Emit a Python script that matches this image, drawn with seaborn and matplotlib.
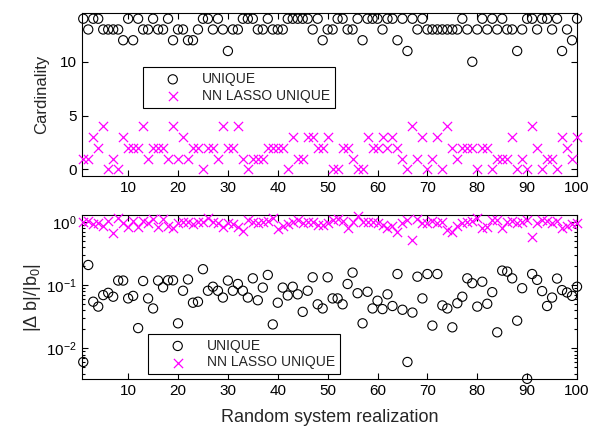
import numpy as np
import pandas as pd
import matplotlib
matplotlib.use('Agg')
import matplotlib.pyplot as plt
import seaborn as sns

# realization index
realization = list(range(1, 101))

# top panel: cardinality of the solution
card_unique = [14, 13, 14, 14, 13, 13, 13, 13, 12, 14,
               12, 14, 13, 13, 14, 13, 13, 14, 12, 13,
               13, 12, 12, 13, 14, 14, 13, 14, 13, 11,
               13, 13, 14, 14, 14, 13, 13, 14, 13, 13,
               13, 14, 14, 14, 14, 14, 13, 14, 12, 13,
               13, 14, 14, 13, 13, 14, 12, 14, 14, 14,
               13, 14, 14, 12, 14, 11, 14, 13, 14, 13,
               13, 13, 13, 13, 13, 13, 14, 13, 10, 13,
               14, 13, 14, 13, 14, 13, 13, 11, 13, 14,
               14, 13, 14, 14, 13, 14, 11, 13, 12, 14]
card_nnlasso = [1, 1, 3, 2, 4, 0, 1, 0, 3, 2,
                2, 2, 4, 1, 2, 2, 2, 1, 4, 1,
                3, 1, 2, 2, 0, 2, 2, 1, 4, 2,
                2, 4, 1, 0, 1, 1, 1, 2, 2, 2,
                2, 0, 3, 1, 1, 3, 3, 2, 2, 3,
                0, 0, 2, 2, 1, 0, 0, 3, 2, 2,
                3, 2, 3, 2, 1, 0, 4, 1, 3, 0,
                1, 3, 0, 4, 2, 1, 2, 2, 2, 0,
                2, 2, 0, 1, 1, 1, 3, 0, 1, 0,
                4, 2, 0, 1, 1, 0, 3, 2, 1, 3]

# bottom panel: relative error |db|/|b0|
err_unique = [0.0061, 0.21, 0.055, 0.046, 0.070, 0.076, 0.066, 0.119, 0.119, 0.062,
              0.068, 0.021, 0.117, 0.062, 0.043, 0.119, 0.093, 0.12, 0.12, 0.025,
              0.082, 0.124, 0.053, 0.055, 0.18, 0.082, 0.095, 0.082, 0.064, 0.119,
              0.082, 0.105, 0.082, 0.064, 0.129, 0.058, 0.092, 0.146, 0.024, 0.053,
              0.092, 0.069, 0.095, 0.072, 0.038, 0.082, 0.134, 0.050, 0.043, 0.134,
              0.062, 0.062, 0.050, 0.105, 0.159, 0.075, 0.025, 0.079, 0.043, 0.057,
              0.042, 0.072, 0.047, 0.151, 0.041, 0.0061, 0.037, 0.137, 0.062, 0.151,
              0.023, 0.151, 0.048, 0.043, 0.0216, 0.052, 0.066, 0.129, 0.108, 0.046,
              0.114, 0.051, 0.078, 0.018, 0.171, 0.165, 0.129, 0.0275, 0.090, 0.0033,
              0.151, 0.122, 0.081, 0.047, 0.064, 0.128, 0.084, 0.077, 0.068, 0.095]
err_nnlasso = [1.0, 1.06, 0.93, 0.96, 0.87, 1.06, 0.685, 1.16, 0.96, 0.85,
               1.06, 0.85, 1.06, 0.96, 1.12, 0.85, 1.12, 0.87, 0.80, 0.96,
               1.02, 1.0, 0.94, 1.0, 1.02, 1.17, 1.02, 0.96, 0.85, 0.96,
               0.94, 0.83, 0.73, 1.1, 1.02, 0.96, 1.02, 1.06, 1.15, 0.78,
               0.87, 0.94, 1.02, 1.08, 0.96, 1.02, 1.0, 0.90, 0.90, 0.96,
               1.1, 1.12, 1.06, 0.82, 1.02, 1.25, 1.02, 0.99, 1.02, 0.96,
               0.90, 0.82, 0.87, 0.69, 0.96, 1.08, 0.53, 1.12, 0.96, 0.96,
               1.06, 0.98, 1.0, 0.74, 0.69, 0.87, 0.96, 1.02, 1.06, 1.16,
               0.80, 0.85, 1.08, 1.1, 0.80, 1.02, 1.06, 0.96, 1.02, 1.1,
               0.59, 0.96, 1.1, 1.06, 0.96, 1.06, 0.80, 0.87, 0.93, 0.96]

df = pd.DataFrame({'n': realization,
                   'card_u': card_unique, 'card_nn': card_nnlasso,
                   'err_u': err_unique, 'err_nn': err_nnlasso})

sns.set_style('ticks')
plt.rcParams['font.family'] = ['Liberation Sans', 'DejaVu Sans']
plt.rcParams['mathtext.fontset'] = 'custom'
plt.rcParams['mathtext.rm'] = 'Liberation Sans'
plt.rcParams['mathtext.it'] = 'Liberation Sans:italic'
plt.rcParams['axes.linewidth'] = 0.8

magenta = '#ff00ff'

fig = plt.figure(figsize=(5.9, 4.3), dpi=100)
ax1 = fig.add_axes([0.139, 0.591, 0.839, 0.378])
ax2 = fig.add_axes([0.139, 0.119, 0.839, 0.380])

# top panel
sns.scatterplot(data=df, x='n', y='card_u', ax=ax1, marker='o', s=44,
                facecolors='none', edgecolor='black', linewidth=0.8,
                label='UNIQUE', clip_on=False, zorder=3)
sns.scatterplot(data=df, x='n', y='card_nn', ax=ax1, marker='x', s=44,
                color=magenta, linewidth=0.9,
                label='NN LASSO UNIQUE', clip_on=False, zorder=3)
ax1.set_xlim(0.75, 100)
ax1.set_ylim(-0.6, 14.5)
ax1.set_xticks(range(10, 101, 10))
ax1.set_yticks([0, 5, 10])
ax1.set_xlabel('')
ax1.set_ylabel('Cardinality', fontsize=12)

# bottom panel
sns.scatterplot(data=df, x='n', y='err_u', ax=ax2, marker='o', s=44,
                facecolors='none', edgecolor='black', linewidth=0.8,
                label='UNIQUE', clip_on=False, zorder=3)
sns.scatterplot(data=df, x='n', y='err_nn', ax=ax2, marker='x', s=44,
                color=magenta, linewidth=0.9,
                label='NN LASSO UNIQUE', clip_on=False, zorder=3)
ax2.set_yscale('log')
ax2.set_xlim(0.75, 100)
ax2.set_ylim(0.0033, 1.28)
ax2.set_xticks(range(10, 101, 10))
ax2.set_xlabel('Random system realization', fontsize=13, labelpad=8)
ax2.set_ylabel(r'|$\Delta$ b|/|b$_0$|', fontsize=13)

ax1.yaxis.set_label_coords(-0.066, 0.5)
ax2.yaxis.set_label_coords(-0.079, 0.5)

for ax in (ax1, ax2):
    ax.tick_params(which='both', direction='in', top=True, right=True,
                   labelsize=11, width=0.8, colors='black', pad=4)
    ax.tick_params(which='major', length=4)
    ax.tick_params(which='minor', length=2)
    for sp in ax.spines.values():
        sp.set_color('black')

leg_kw = dict(loc='upper left', fontsize=10, frameon=True, fancybox=False,
              edgecolor='black', framealpha=1, borderpad=0.35,
              handletextpad=0.3, labelspacing=0.2, borderaxespad=0,
              handlelength=3.6)
leg1 = ax1.legend(bbox_to_anchor=(0.123, 0.669), **leg_kw)
leg1.get_frame().set_linewidth(0.8)
leg2 = ax2.legend(bbox_to_anchor=(0.133, 0.276), **leg_kw)
leg2.get_frame().set_linewidth(0.8)

fig.savefig('out.png', dpi=100)
